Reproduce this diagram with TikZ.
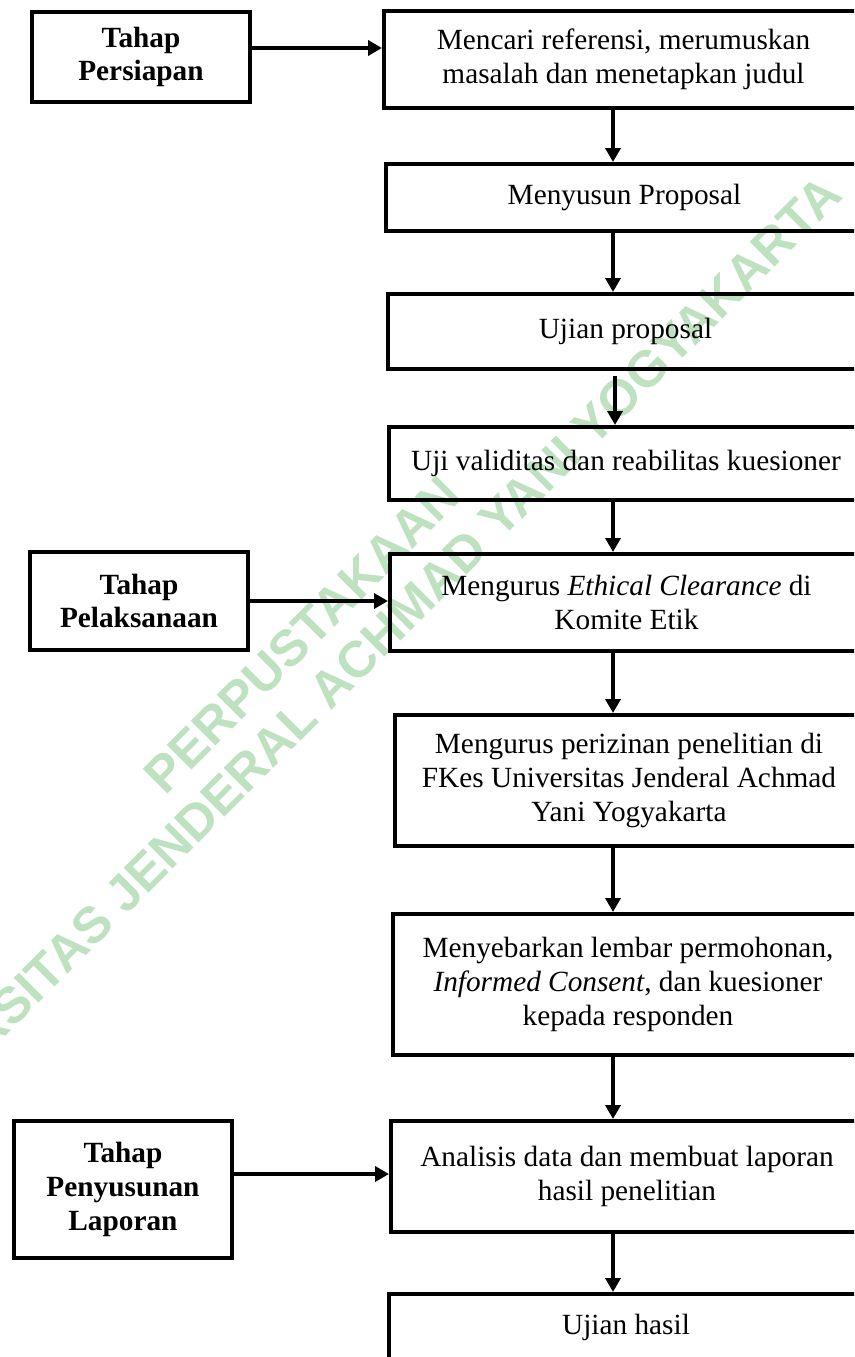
\documentclass[tikz,border=0pt]{standalone}
\usepackage{fontspec}
\setmainfont{Liberation Serif}
\newfontfamily\wmfont{Liberation Sans}
\usetikzlibrary{arrows.meta,calc}
\definecolor{wm}{RGB}{190,225,192}
\begin{document}
\begin{tikzpicture}[x=1pt,y=-1pt,
  box/.style={draw,line width=4pt,anchor=north west,align=center,inner sep=0pt,
    font=\fontsize{29.3}{33.7}\selectfont},
  bbox/.style={box,font=\fontsize{29.3}{33.7}\selectfont\bfseries},
  arr/.style={line width=3.6pt,-{Triangle[length=14pt,width=15pt]}},
  wmtext/.style={text=wm,font=\wmfont\bfseries\fontsize{51}{57}\selectfont,rotate=45,inner sep=0pt}]
\useasboundingbox (0,0) rectangle (854,1357);
\clip (0,0) rectangle (854,1357);
% watermark
\node[wmtext] (w1) at (302,635) {PERPUSTAKAAN};
\node[wmtext] (w2) at (348,669) {UNIVERSITAS JENDERAL ACHMAD YANI YOGYAKARTA};
% left stage boxes
\node[bbox,minimum width=218pt,minimum height=90pt] (A) at (30,10) {Tahap\\Persiapan};
\node[bbox,minimum width=218pt,minimum height=98pt] (G) at (28,550) {Tahap\\Pelaksanaan};
\node[bbox,minimum width=218pt,minimum height=137pt] (K) at (12,1119) {Tahap\\Penyusunan\\Laporan};
% main column
\node[box,minimum width=479pt,minimum height=97pt] (B) at (382,9) {Mencari referensi, merumuskan\\masalah dan menetapkan judul};
\node[box,minimum width=477pt,minimum height=67pt] (C) at (384,162) {Menyusun Proposal};
\node[box,minimum width=475pt,minimum height=75pt] (D) at (386,292) {Ujian proposal};
\node[box,minimum width=474pt,minimum height=73pt] (E) at (387,425) {Uji validitas dan reabilitas kuesioner};
\node[box,minimum width=473pt,minimum height=97pt] (F) at (388,552) {Mengurus \textit{Ethical Clearance} di\\Komite Etik};
\node[box,minimum width=468pt,minimum height=131pt] (H) at (393,713) {Mengurus perizinan penelitian di\\FKes Universitas Jenderal Achmad\\Yani Yogyakarta};
\node[box,minimum width=470pt,minimum height=141pt] (I) at (391,912) {Menyebarkan lembar permohonan,\\\textit{Informed Consent}, dan kuesioner\\kepada responden};
\node[box,minimum width=472pt,minimum height=111pt] (J) at (389,1119) {Analisis data dan membuat laporan\\hasil penelitian};
\node[box,minimum width=474pt,minimum height=66pt] (L) at (387,1292) {Ujian hasil};
% helper coordinates
\coordinate (c1) at (613,0);
\coordinate (c2) at (615,0);
\coordinate (ya) at (0,48);
\coordinate (yk) at (0,1174);
% connectors
\draw[arr] (A.east |- ya) -- (B.west |- ya);
\draw[arr] (G.east) -- (G.east -| F.west);
\draw[arr] (K.east |- yk) -- (J.west |- yk);
\draw[arr] (B.south -| c1) -- (C.north -| c1);
\draw[arr] (C.south -| c1) -- (D.north -| c1);
\draw[arr,shorten <=5pt] (D.south -| c2) -- (E.north -| c2);
\draw[arr] (E.south -| c1) -- (F.north -| c1);
\draw[arr] (F.south -| c1) -- (H.north -| c1);
\draw[arr] (H.south -| c1) -- (I.north -| c1);
\draw[arr] (I.south -| c1) -- (J.north -| c1);
\draw[arr] (J.south -| c1) -- (L.north -| c1);
\end{tikzpicture}
\end{document}
